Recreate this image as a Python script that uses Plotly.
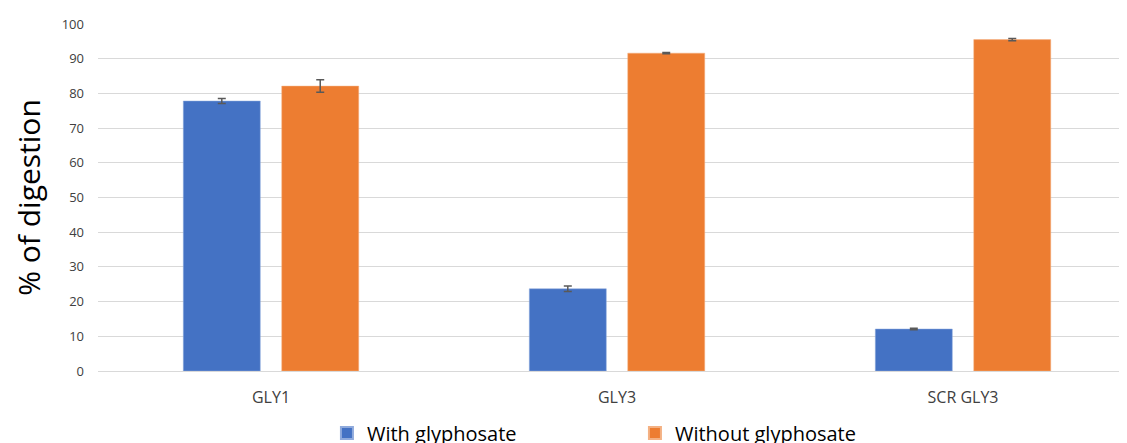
import plotly.graph_objects as go

categories = ["GLY1", "GLY3", "SCR GLY3"]
with_gly = [77.8, 23.7, 12.1]
with_gly_err = [0.7, 0.8, 0.2]
without_gly = [82.1, 91.6, 95.5]
without_gly_err = [1.8, 0.2, 0.3]
y_ticks = list(range(0, 101, 10))

fig = go.Figure()
fig.add_trace(go.Bar(
    x=categories, y=with_gly, name="With glyphosate",
    marker=dict(color="#4472C4", line=dict(color="#8FAADC", width=0.5)),
    error_y=dict(type="data", array=with_gly_err, color="#595959", thickness=1.5, width=4),
))
fig.add_trace(go.Bar(
    x=categories, y=without_gly, name="Without glyphosate",
    marker=dict(color="#ED7D31", line=dict(color="#F4B183", width=0.5)),
    error_y=dict(type="data", array=without_gly_err, color="#595959", thickness=1.5, width=4),
))

fig.update_layout(
    width=1127, height=443,
    margin=dict(l=90, r=0, t=16, b=80, autoexpand=False),
    paper_bgcolor="white", plot_bgcolor="white",
    barmode="group", bargap=0.431, bargroupgap=0.218,
    font=dict(family="Open Sans, Liberation Sans, sans-serif", color="#595959"),
    xaxis=dict(range=[-0.5, 2.497], showgrid=False, showline=False, ticks="",
               ticklabelstandoff=15,
               tickfont=dict(size=16, color="#404040")),
    yaxis=dict(range=[0, 100], tickvals=y_ticks, showgrid=True, gridcolor="#D9D9D9",
               gridwidth=1, zeroline=True, zerolinecolor="#D9D9D9", zerolinewidth=1,
               ticks="", ticklen=0, ticklabelstandoff=13,
               tickfont=dict(size=13, color="#404040")),
    legend=dict(orientation="h", xref="container", x=0.2830, xanchor="left",
                yref="container", y=0.0406, yanchor="middle",
                font=dict(size=20, color="#000000"), entrywidth=263, itemsizing="constant"),
)
fig.update_yaxes(title=dict(text="% of digestion", font=dict(size=30, color="#000000"), standoff=12))

fig.write_html("out.html")
